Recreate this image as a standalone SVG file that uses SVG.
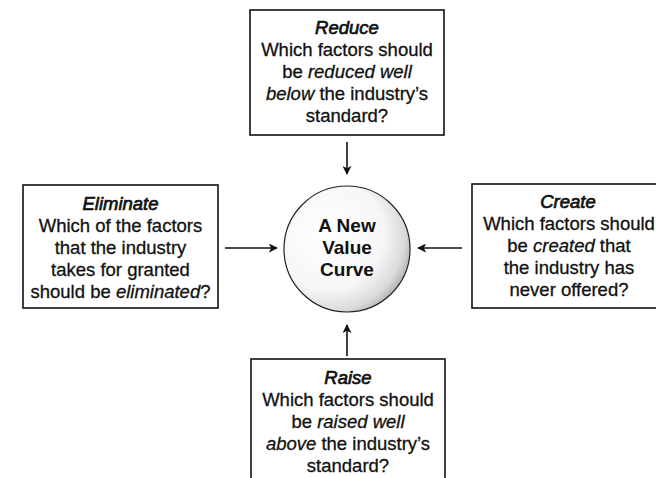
<svg xmlns="http://www.w3.org/2000/svg" width="656" height="478" viewBox="0 0 656 478">
<defs>
<style>
.box{fill:#fff;stroke:#111;stroke-width:1.6}
.t{font-family:"Liberation Sans",Arial,sans-serif;font-size:18.5px;fill:#111;text-anchor:middle;stroke:#111;stroke-width:0.3}
.i{font-style:italic}
.h{stroke-width:0.7}
.c{font-family:"Liberation Sans",Arial,sans-serif;font-size:19px;font-weight:bold;fill:#111;text-anchor:middle}
.ln{stroke:#111;stroke-width:1.6;fill:none}
</style>
<marker id="ah" viewBox="0 0 10 10" refX="9" refY="5" markerWidth="9" markerHeight="9" markerUnits="userSpaceOnUse" orient="auto">
<path d="M0,0 L10,5 L0,10 L2.5,5 Z" fill="#111"/>
</marker>
<radialGradient id="g" cx="0.36" cy="0.4" r="0.72" fx="0.32" fy="0.36">
<stop offset="0" stop-color="#ffffff"/>
<stop offset="0.62" stop-color="#f6f6f6"/>
<stop offset="0.84" stop-color="#dadada"/>
<stop offset="1" stop-color="#9a9a9a"/>
</radialGradient>
</defs>
<rect width="656" height="478" fill="#fff"/>
<g id="connectors">
<line class="ln" x1="347" y1="142" x2="347" y2="174" marker-end="url(#ah)"/>
<line class="ln" x1="225" y1="248" x2="277" y2="248" marker-end="url(#ah)"/>
<line class="ln" x1="462" y1="248" x2="418" y2="248" marker-end="url(#ah)"/>
<line class="ln" x1="347" y1="356" x2="347" y2="325" marker-end="url(#ah)"/>
</g>
<g id="center">
<circle cx="347" cy="249" r="63" fill="url(#g)" stroke="#222" stroke-width="1.2"/>
<text class="c" x="347" y="232">A New</text>
<text class="c" x="347" y="254">Value</text>
<text class="c" x="347" y="276">Curve</text>
</g>
<g id="reduce">
<rect class="box" x="250" y="10" width="194" height="125"/>
<text class="t i h" x="347" y="34">Reduce</text>
<text class="t" x="347" y="56">Which factors should</text>
<text class="t" x="347" y="78">be <tspan class="i">reduced well</tspan></text>
<text class="t" x="347" y="100"><tspan class="i">below</tspan> the industry’s</text>
<text class="t" x="347" y="122">standard?</text>
</g>
<g id="eliminate">
<rect class="box" x="23" y="185" width="195" height="123"/>
<text class="t i h" x="120.5" y="210">Eliminate</text>
<text class="t" x="120.5" y="232">Which of the factors</text>
<text class="t" x="120.5" y="254">that the industry</text>
<text class="t" x="120.5" y="276">takes for granted</text>
<text class="t" x="120.5" y="298">should be <tspan class="i">eliminated</tspan>?</text>
</g>
<g id="create">
<rect class="box" x="472" y="184" width="200" height="124"/>
<text class="t i h" x="568" y="208">Create</text>
<text class="t" x="569" y="230">Which factors should</text>
<text class="t" x="569" y="252">be <tspan class="i">created</tspan> that</text>
<text class="t" x="569" y="274">the industry has</text>
<text class="t" x="569" y="296">never offered?</text>
</g>
<g id="raise">
<rect class="box" x="251" y="359" width="194" height="130"/>
<text class="t i h" x="348" y="384">Raise</text>
<text class="t" x="348" y="406">Which factors should</text>
<text class="t" x="348" y="428">be <tspan class="i">raised well</tspan></text>
<text class="t" x="348" y="450"><tspan class="i">above</tspan> the industry’s</text>
<text class="t" x="348" y="472">standard?</text>
</g>
</svg>
